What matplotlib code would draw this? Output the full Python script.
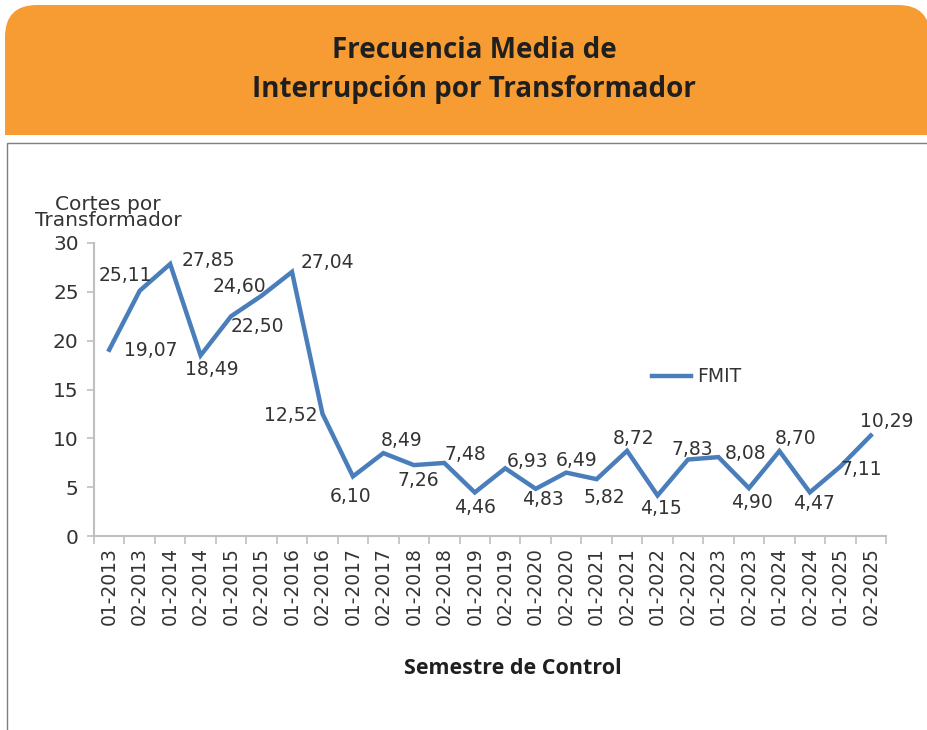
import numpy as np
import matplotlib.pyplot as plt
from matplotlib.patches import FancyBboxPatch, Rectangle


periods = ['01-2013', '02-2013', '01-2014', '02-2014', '01-2015', '02-2015',
           '01-2016', '02-2016', '01-2017', '02-2017', '01-2018', '02-2018',
           '01-2019', '02-2019', '01-2020', '02-2020', '01-2021', '02-2021',
           '01-2022', '02-2022', '01-2023', '02-2023', '01-2024', '02-2024',
           '01-2025', '02-2025']
fmit = [19.07, 25.11, 27.85, 18.49, 22.50, 24.60, 27.04, 12.52, 6.10, 8.49,
        7.26, 7.48, 4.46, 6.93, 4.83, 6.49, 5.82, 8.72, 4.15, 7.83, 8.08,
        4.90, 8.70, 4.47, 7.11, 10.29]
yticks = [0, 5, 10, 15, 20, 25, 30]

# label offsets in pixels (dx, dy up)
offsets = [(42, -1), (-14, 15), (38, 3), (11, -14), (26, -10), (-22, 9),
           (35, 9), (-32, -2), (-2, -20), (18, 13), (4, -15), (21, 8),
           (0, -15), (22, 7), (7, -11), (10, 12), (8, -18), (6, 12),
           (3, -13), (4, 10), (27, 4), (3, -14), (16, 13), (4, -11),
           (21, -3), (16, 14)]

blue = '#4A7EBB'
txt = '#333333'
grey = '#BFBFBF'

fig = plt.figure(figsize=(9.28, 7.30), dpi=100)

# orange header with rounded top corners
hdr = FancyBboxPatch((0.05, 5.95), 9.25, 1.30,
                     boxstyle='round,pad=0,rounding_size=0.32',
                     transform=fig.dpi_scale_trans, fc='#F69C32', ec='none')
fig.patches.append(hdr)
fig.patches.append(Rectangle((0.05, 5.95), 9.25, 0.5,
                             transform=fig.dpi_scale_trans,
                             fc='#F69C32', ec='none'))
# grey frame of the chart area
fig.patches.append(Rectangle((0.07, -0.5), 10, 6.37,
                             transform=fig.dpi_scale_trans,
                             fc='none', ec='#7F7F7F', lw=1.0))

fig.text(474 / 928, 1 - 50 / 730, 'Frecuencia Media de', ha='center',
         va='center', fontsize=20, fontweight='bold', family='Open Sans',
         color='#1F1F1F')
fig.text(474 / 928, 1 - 90 / 730, 'Interrupción por Transformador',
         ha='center', va='center', fontsize=20, fontweight='bold',
         family='Open Sans', color='#1F1F1F')

ax = fig.add_axes([94 / 928, 1 - 536 / 730, 792 / 928, 293 / 730])
x = np.arange(len(periods))
ax.plot(x, fmit, color=blue, lw=3.2, solid_joinstyle='miter', label='FMIT')

for i, v in enumerate(fmit):
    dx, dy = offsets[i]
    ax.annotate(f'{v:.2f}'.replace('.', ','), (i, v), xytext=(dx, dy),
                textcoords='offset pixels', ha='center', va='center',
                fontsize=13.5, color=txt)

ax.set_xlim(-0.5, len(periods) - 0.5)
ax.set_ylim(0, 30)
ax.set_yticks(yticks)
ax.set_yticklabels([str(t) for t in yticks])
ax.set_xticks(np.arange(len(periods) + 1) - 0.5)
ax.set_xticklabels([])
ax.set_xticks(x, minor=True)
ax.set_xticklabels(periods, minor=True, rotation=90, fontsize=13.5,
                   color=txt)
ax.tick_params(axis='x', which='major', length=6, color=grey, width=1.2)
ax.tick_params(axis='x', which='minor', length=0, pad=8)
ax.tick_params(axis='y', length=5, color=grey, width=1.2, labelsize=14.5,
               labelcolor=txt, pad=6)

for s in ['top', 'right']:
    ax.spines[s].set_visible(False)
for s in ['left', 'bottom']:
    ax.spines[s].set_color(grey)
    ax.spines[s].set_linewidth(1.5)

ax.legend(loc='center left', bbox_to_anchor=(0.683, 0.543), frameon=False,
          fontsize=13.5, handlelength=2.1, handletextpad=0.3,
          labelcolor=txt)

fig.text(108 / 928, 1 - 213 / 730, 'Cortes por\nTransformador',
         ha='center', va='center', fontsize=14.5, color=txt, linespacing=0.8)
fig.text(513 / 928, 1 - 668 / 730, 'Semestre de Control', ha='center',
         va='center', fontsize=15.5, fontweight='bold', family='Open Sans',
         color='#1F1F1F')

fig.savefig('out.png', dpi=100)
